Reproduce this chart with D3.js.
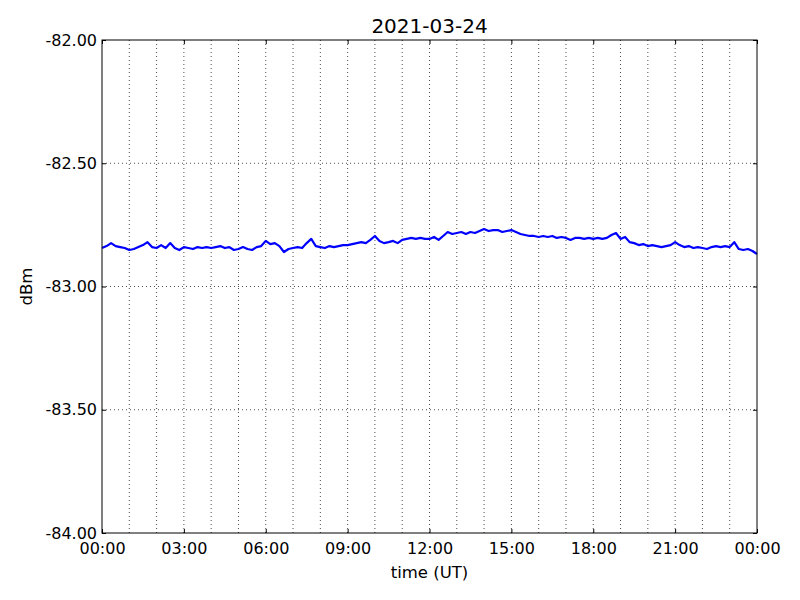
<!DOCTYPE html>
<html>
<head>
<meta charset="utf-8">
<script src="https://cdn.jsdelivr.net/npm/d3@7"></script>
<style>
  body { margin: 0; background: #fff; }
  text { font-family: "DejaVu Sans", sans-serif; fill: #000; }
  .grid line { stroke: #000; stroke-width: 0.7; stroke-dasharray: 1,3; }
</style>
</head>
<body>
<div id="vis"></div>
<script>
var margin = {top: 40, right: 43, bottom: 67, left: 102},
    width = 800 - margin.left - margin.right,
    height = 600 - margin.top - margin.bottom;

var title = "2021-03-24";
var startTime = new Date(Date.UTC(2021, 2, 24, 0, 0)),
    endTime = new Date(Date.UTC(2021, 2, 25, 0, 0));
var stepMinutes = 10;

// signal level, one reading every 10 minutes (dBm)
var levels = [
  -82.844, -82.836, -82.824, -82.836, -82.840, -82.844, -82.852, -82.848, -82.840, -82.832,
  -82.820, -82.840, -82.844, -82.832, -82.844, -82.824, -82.844, -82.852, -82.840, -82.844,
  -82.848, -82.840, -82.844, -82.840, -82.844, -82.840, -82.836, -82.844, -82.840, -82.852,
  -82.848, -82.840, -82.848, -82.852, -82.840, -82.836, -82.815, -82.828, -82.824, -82.836,
  -82.860, -82.848, -82.844, -82.840, -82.844, -82.824, -82.807, -82.836, -82.840, -82.844,
  -82.836, -82.840, -82.836, -82.832, -82.832, -82.828, -82.824, -82.820, -82.824, -82.811,
  -82.795, -82.815, -82.824, -82.820, -82.815, -82.824, -82.811, -82.807, -82.803, -82.807,
  -82.803, -82.807, -82.807, -82.799, -82.811, -82.795, -82.779, -82.787, -82.783, -82.779,
  -82.787, -82.779, -82.783, -82.775, -82.767, -82.775, -82.771, -82.771, -82.779, -82.775,
  -82.771, -82.779, -82.787, -82.791, -82.795, -82.795, -82.799, -82.795, -82.799, -82.795,
  -82.803, -82.799, -82.803, -82.811, -82.803, -82.803, -82.807, -82.803, -82.807, -82.803,
  -82.807, -82.803, -82.791, -82.783, -82.807, -82.799, -82.820, -82.824, -82.832, -82.828,
  -82.836, -82.832, -82.836, -82.840, -82.836, -82.832, -82.820, -82.832, -82.840, -82.836,
  -82.844, -82.840, -82.844, -82.848, -82.840, -82.836, -82.840, -82.836, -82.840, -82.820,
  -82.848, -82.852, -82.848, -82.856, -82.868
];

var yTicks = [-84, -83.5, -83, -82.5, -82];

var data = levels.map(function(v, i) {
  return {time: new Date(startTime.getTime() + i * stepMinutes * 60000), value: v};
});

var x = d3.scaleUtc()
    .domain([startTime, endTime])
    .range([0, width]);

var y = d3.scaleLinear()
    .domain([-84, -82])
    .range([height, 0]);

var svg = d3.select("#vis")
  .append("svg")
    .attr("width", width + margin.left + margin.right)
    .attr("height", height + margin.top + margin.bottom);

svg.append("rect")
    .attr("width", 800).attr("height", 600).attr("fill", "#fff");

var g = svg.append("g")
    .attr("transform", "translate(" + margin.left + "," + margin.top + ")");

var hourTicks = x.ticks(d3.utcHour.every(1));
var labelTicks = x.ticks(d3.utcHour.every(3));
var fmtTime = d3.utcFormat("%H:%M");

////////// grid //////////
var grid = g.append("g").attr("class", "grid");

grid.selectAll(".vgrid")
    .data(hourTicks.slice(1, -1))
  .enter().append("line")
    .attr("x1", function(d) { return x(d); })
    .attr("x2", function(d) { return x(d); })
    .attr("y1", 0)
    .attr("y2", height);

grid.selectAll(".hgrid")
    .data(yTicks.slice(1, -1))
  .enter().append("line")
    .attr("x1", 0)
    .attr("x2", width)
    .attr("y1", function(d) { return y(d); })
    .attr("y2", function(d) { return y(d); });

////////// line //////////
var line = d3.line()
    .x(function(d) { return x(d.time); })
    .y(function(d) { return y(d.value); });

g.append("path")
    .datum(data)
    .attr("fill", "none")
    .attr("stroke", "#0000ff")
    .attr("stroke-width", 2.2)
    .attr("stroke-linejoin", "round")
    .attr("d", line);

////////// axes (ticks inside, classic style) //////////
var tickLen = 4;

var xBottom = d3.axisBottom(x)
    .tickValues(labelTicks)
    .tickSizeInner(-tickLen).tickSizeOuter(0)
    .tickPadding(10)
    .tickFormat(fmtTime);

var xTop = d3.axisTop(x)
    .tickValues(labelTicks)
    .tickSizeInner(-tickLen).tickSizeOuter(0)
    .tickFormat("");

var yLeft = d3.axisLeft(y)
    .tickValues(yTicks)
    .tickSizeInner(-tickLen).tickSizeOuter(0)
    .tickPadding(5)
    .tickFormat(function(d) { return d.toFixed(2); });

var yRight = d3.axisRight(y)
    .tickValues(yTicks)
    .tickSizeInner(-tickLen).tickSizeOuter(0)
    .tickFormat("");

g.append("g").attr("transform", "translate(0," + height + ")").call(xBottom);
g.append("g").call(xTop);
g.append("g").call(yLeft);
g.append("g").attr("transform", "translate(" + width + ",0)").call(yRight);

g.selectAll(".domain").remove();
g.selectAll(".tick line").attr("stroke", "#000").attr("stroke-width", 1);
g.selectAll(".tick text")
    .style("font-family", "DejaVu Sans")
    .style("font-size", "16px")
    .attr("fill", "#000");

g.append("rect")
    .attr("width", width)
    .attr("height", height)
    .attr("fill", "none")
    .attr("stroke", "#000")
    .attr("stroke-width", 1);

////////// labels //////////
svg.append("text")
    .attr("x", margin.left + width / 2)
    .attr("y", 33)
    .attr("text-anchor", "middle")
    .style("font-size", "20px")
    .text(title);

svg.append("text")
    .attr("x", margin.left + width / 2)
    .attr("y", 578)
    .attr("text-anchor", "middle")
    .style("font-size", "16.5px")
    .text("time (UT)");

svg.append("text")
    .attr("transform", "translate(32," + (margin.top + height / 2) + ") rotate(-90)")
    .attr("text-anchor", "middle")
    .style("font-size", "16.5px")
    .text("dBm");
</script>
</body>
</html>
